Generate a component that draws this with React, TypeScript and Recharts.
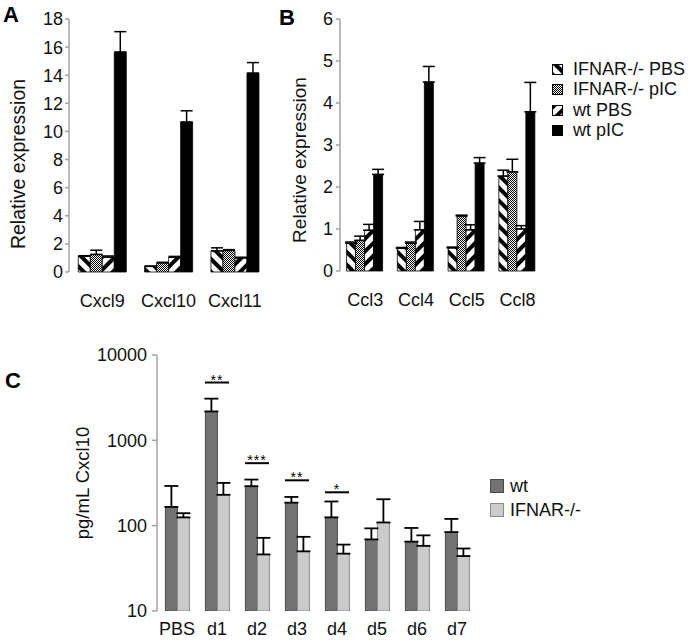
import React from 'react';
import { ComposedChart, Bar, XAxis, YAxis, ErrorBar, Legend, Scatter } from 'recharts';

// ---------- Panel A data ----------
const genesA = ['Cxcl9', 'Cxcl10', 'Cxcl11'];
const ifnarPbsA = [1.13, 0.4, 1.5];
const ifnarPbsAErr = [0.03, 0.02, 0.22];
const ifnarPicA = [1.25, 0.65, 1.53];
const ifnarPicAErr = [0.3, 0.04, 0.06];
const wtPbsA = [1.06, 1.05, 1.0];
const wtPbsAErr = [0.08, 0.06, 0.05];
const wtPicA = [15.65, 10.67, 14.15];
const wtPicAErr = [1.45, 0.8, 0.75];
const ticksA = [0, 2, 4, 6, 8, 10, 12, 14, 16, 18];

// ---------- Panel B data ----------
const genesB = ['Ccl3', 'Ccl4', 'Ccl5', 'Ccl8'];
const ifnarPbsB = [0.66, 0.54, 0.55, 2.26];
const ifnarPbsBErr = [0.03, 0.02, 0.02, 0.14];
const ifnarPicB = [0.73, 0.66, 1.31, 2.36];
const ifnarPicBErr = [0.1, 0.03, 0.02, 0.3];
const wtPbsB = [0.97, 0.98, 0.98, 1.0];
const wtPbsBErr = [0.14, 0.2, 0.12, 0.08];
const wtPicB = [2.3, 4.5, 2.57, 3.79];
const wtPicBErr = [0.12, 0.37, 0.13, 0.7];
const ticksB = [0, 1, 2, 3, 4, 5, 6];

const seriesNamesAB = ['IFNAR-/- PBS', 'IFNAR-/- pIC', 'wt PBS', 'wt pIC'];

// ---------- Panel C data ----------
const daysC = ['PBS', 'd1', 'd2', 'd3', 'd4', 'd5', 'd6', 'd7'];
const wtC = [166, 2180, 290, 186, 125, 69, 65, 84];
const wtCErr = [126, 900, 57, 31, 67, 24, 29, 36];
const ifnarC = [125, 230, 46, 50, 47, 109, 58, 44];
const ifnarCErr = [15, 87, 26, 24, 13, 95, 19, 10];
const sigLevelC: (number | null)[] = [null, 4760, 540, 340, 246, null, null, null];
const sigStarsC = ['', '**', '***', '**', '*', '', '', ''];
const ticksC = [10, 100, 1000, 10000];
const seriesNamesC = ['wt', 'IFNAR-/-'];

const FONT = '"Liberation Sans", Arial, Helvetica, sans-serif';
const AXIS = '#a3a3a3';
const TXT = '#111';

const fillsAB = ['url(#pIfnarPbs)', 'url(#pIfnarPic)', 'url(#pWtPbs)', '#000'];
const fillsC = ['#737373', '#cbcbcb'];
const strokesC = ['#4a4a4a', '#8a8a8a'];

const dataA = genesA.map((g, i) => ({
  name: g,
  s0: ifnarPbsA[i], e0: [0, ifnarPbsAErr[i]],
  s1: ifnarPicA[i], e1: [0, ifnarPicAErr[i]],
  s2: wtPbsA[i], e2: [0, wtPbsAErr[i]],
  s3: wtPicA[i], e3: [0, wtPicAErr[i]],
}));

const dataB = genesB.map((g, i) => ({
  name: g,
  s0: ifnarPbsB[i], e0: [0, ifnarPbsBErr[i]],
  s1: ifnarPicB[i], e1: [0, ifnarPicBErr[i]],
  s2: wtPbsB[i], e2: [0, wtPbsBErr[i]],
  s3: wtPicB[i], e3: [0, wtPicBErr[i]],
}));

const dataC = daysC.map((d, i) => ({
  name: d,
  wt: wtC[i], wtE: [0, wtCErr[i]],
  ko: ifnarC[i], koE: [0, ifnarCErr[i]],
  sig: sigLevelC[i],
  stars: sigStarsC[i],
}));

const tickStyle = { fill: TXT, fontSize: 18, fontFamily: FONT };

const yTitle = (text: string, cx: number, cy: number, fs: number) => () => (
  <text
    x={cx}
    y={cy}
    transform={`rotate(-90 ${cx} ${cy})`}
    textAnchor="middle"
    dominantBaseline="central"
    fontSize={fs}
    fontFamily={FONT}
    fill={TXT}
  >
    {text}
  </text>
);

const Patterns = () => (
  <svg width={0} height={0} style={{ position: 'absolute', left: 0, top: 0 }}>
    <defs>
      <pattern id="pIfnarPbs" patternUnits="userSpaceOnUse" width={9} height={9} patternTransform="rotate(-45)">
        <rect width={9} height={9} fill="#fff" />
        <rect width={4} height={9} fill="#000" />
      </pattern>
      <pattern id="pWtPbs" patternUnits="userSpaceOnUse" width={9} height={9} patternTransform="rotate(45)">
        <rect width={9} height={9} fill="#fff" />
        <rect width={4} height={9} fill="#000" />
      </pattern>
      <pattern id="pIfnarPic" patternUnits="userSpaceOnUse" width={2} height={2}>
        <rect width={2} height={2} fill="#fff" />
        <rect x={0} y={0} width={1} height={1} fill="#000" />
        <rect x={1} y={1} width={1} height={1} fill="#000" />
      </pattern>
    </defs>
  </svg>
);

const LegendAB = () => (
  <div style={{ fontFamily: FONT, fontSize: 18, color: TXT }}>
    {seriesNamesAB.map((n, i) => (
      <div key={n} style={{ display: 'flex', alignItems: 'center', height: 20.5, whiteSpace: 'nowrap' }}>
        <svg width={11} height={11} style={{ marginRight: 10 }}>
          <rect x={0.5} y={0.5} width={10} height={10} fill={fillsAB[i]} stroke="#000" strokeWidth={1} />
        </svg>
        <span>{n}</span>
      </div>
    ))}
  </div>
);

const LegendC = () => (
  <div style={{ fontFamily: FONT, fontSize: 18, color: TXT }}>
    {seriesNamesC.map((n, i) => (
      <div key={n} style={{ display: 'flex', alignItems: 'center', height: 24, whiteSpace: 'nowrap' }}>
        <svg width={14} height={14} style={{ marginRight: 6 }}>
          <rect x={0.5} y={0.5} width={13} height={13} fill={fillsC[i]} stroke={strokesC[i]} strokeWidth={1} />
        </svg>
        <span>{n}</span>
      </div>
    ))}
  </div>
);

const SigMark = (props: any) => {
  const { cx, cy, payload } = props;
  if (!payload || payload.sig == null || !isFinite(cy)) return <g />;
  return (
    <g>
      <line x1={cx - 12} x2={cx + 12} y1={cy} y2={cy} stroke="#000" strokeWidth={2} />
      <text x={cx} y={cy + 2} textAnchor="middle" fontSize={14} letterSpacing={1} fontFamily={FONT} fill="#000">
        {payload.stars}
      </text>
    </g>
  );
};

const panelLabel = (t: string, left: number, top: number) => (
  <div
    style={{
      position: 'absolute',
      left,
      top,
      fontFamily: FONT,
      fontWeight: 'bold',
      fontSize: 22,
      lineHeight: 1,
      color: '#000',
    }}
  >
    {t}
  </div>
);

const barsAB = () =>
  [0, 1, 2, 3].map((k) => (
    <Bar
      key={k}
      xAxisId="c"
      dataKey={`s${k}`}
      name={seriesNamesAB[k]}
      fill={fillsAB[k]}
      stroke="#000"
      strokeWidth={0.8}
      isAnimationActive={false}
    >
      <ErrorBar dataKey={`e${k}`} width={6} stroke="#000" strokeWidth={1.5} direction="y" />
    </Bar>
  ));

export default function App() {
  return (
    <div style={{ position: 'absolute', left: 0, top: 0, width: 692, height: 642, background: '#fff', fontFamily: FONT }}>
      <Patterns />
      {panelLabel('A', 3, 4)}
      {panelLabel('B', 279, 7)}
      {panelLabel('C', 5, 370)}

      {/* Panel A */}
      <div style={{ position: 'absolute', left: 0, top: 0 }}>
        <ComposedChart
          width={280}
          height={330}
          data={dataA}
          margin={{ top: 19, right: 12, left: 0, bottom: 0 }}
          barCategoryGap="14%"
          barGap={0}
        >
          <XAxis
            xAxisId="t"
            type="number"
            domain={[0, 3]}
            ticks={[0, 1, 2, 3]}
            height={0}
            tick={false}
            tickSize={5}
            stroke={AXIS}
            axisLine={{ stroke: AXIS, strokeWidth: 1.5 }}
            tickLine={{ stroke: AXIS, strokeWidth: 1.5 }}
          />
          <XAxis
            xAxisId="c"
            dataKey="name"
            type="category"
            height={58}
            axisLine={false}
            tickLine={false}
            tickSize={0}
            tickMargin={22}
            tick={tickStyle}
            interval={0}
          />
          <YAxis
            width={69}
            domain={[0, 18]}
            ticks={ticksA}
            interval={0}
            tick={tickStyle}
            tickSize={4}
            tickMargin={2}
            axisLine={{ stroke: AXIS, strokeWidth: 1.5 }}
            tickLine={{ stroke: AXIS, strokeWidth: 1.5 }}
            label={yTitle('Relative expression', 18, 164, 19.5)}
          />
          {barsAB()}
        </ComposedChart>
      </div>

      {/* Panel B */}
      <div style={{ position: 'absolute', left: 270, top: 0 }}>
        <ComposedChart
          width={422}
          height={330}
          data={dataB}
          margin={{ top: 19, right: 149, left: 0, bottom: 0 }}
          barCategoryGap="13%"
          barGap={0}
        >
          <XAxis
            xAxisId="t"
            type="number"
            domain={[0, 4]}
            ticks={[0, 1, 2, 3, 4]}
            height={0}
            tick={false}
            tickSize={5}
            stroke={AXIS}
            axisLine={{ stroke: AXIS, strokeWidth: 1.5 }}
            tickLine={{ stroke: AXIS, strokeWidth: 1.5 }}
          />
          <XAxis
            xAxisId="c"
            dataKey="name"
            type="category"
            height={59}
            axisLine={false}
            tickLine={false}
            tickSize={0}
            tickMargin={22}
            tick={tickStyle}
            interval={0}
          />
          <YAxis
            width={70}
            domain={[0, 6]}
            ticks={ticksB}
            interval={0}
            tick={tickStyle}
            tickSize={4}
            tickMargin={3}
            axisLine={{ stroke: AXIS, strokeWidth: 1.5 }}
            tickLine={{ stroke: AXIS, strokeWidth: 1.5 }}
            label={yTitle('Relative expression', 29, 160, 19)}
          />
          {barsAB()}
          <Legend
            layout="vertical"
            align="center"
            verticalAlign="middle"
            content={() => <LegendAB />}
            wrapperStyle={{ left: 282, top: 59, width: 140 }}
          />
        </ComposedChart>
      </div>

      {/* Panel C */}
      <div style={{ position: 'absolute', left: 0, top: 340 }}>
        <ComposedChart
          width={692}
          height={302}
          data={dataC}
          margin={{ top: 15, right: 215, left: 0, bottom: 0 }}
          barCategoryGap="21%"
          barGap={0}
        >
          <XAxis
            xAxisId="t"
            type="number"
            domain={[0, 8]}
            ticks={[0, 1, 2, 3, 4, 5, 6, 7, 8]}
            height={0}
            tick={false}
            tickSize={5}
            stroke={AXIS}
            axisLine={{ stroke: AXIS, strokeWidth: 1.5 }}
            tickLine={{ stroke: AXIS, strokeWidth: 1.5 }}
          />
          <XAxis
            xAxisId="c"
            dataKey="name"
            type="category"
            height={31}
            axisLine={false}
            tickLine={false}
            tickSize={0}
            tickMargin={11}
            tick={tickStyle}
            interval={0}
          />
          <YAxis
            width={157}
            scale="log"
            type="number"
            domain={[10, 10000]}
            ticks={ticksC}
            interval={0}
            allowDataOverflow
            tick={tickStyle}
            tickSize={5}
            tickMargin={5}
            axisLine={{ stroke: AXIS, strokeWidth: 1.5 }}
            tickLine={{ stroke: AXIS, strokeWidth: 1.5 }}
            label={yTitle('pg/mL Cxcl10', 82, 143, 18.5)}
          />
          <Bar xAxisId="c" dataKey="wt" name="wt" fill={fillsC[0]} stroke={strokesC[0]} strokeWidth={1} isAnimationActive={false}>
            <ErrorBar dataKey="wtE" width={7} stroke="#000" strokeWidth={1.8} direction="y" />
          </Bar>
          <Bar xAxisId="c" dataKey="ko" name="IFNAR-/-" fill={fillsC[1]} stroke={strokesC[1]} strokeWidth={1} isAnimationActive={false}>
            <ErrorBar dataKey="koE" width={7} stroke="#000" strokeWidth={1.8} direction="y" />
          </Bar>
          <Scatter xAxisId="c" dataKey="sig" isAnimationActive={false} shape={SigMark} legendType="none" />
          <Legend
            layout="vertical"
            align="center"
            verticalAlign="middle"
            content={() => <LegendC />}
            wrapperStyle={{ left: 490, top: 134, width: 140 }}
          />
        </ComposedChart>
      </div>
    </div>
  );
}
